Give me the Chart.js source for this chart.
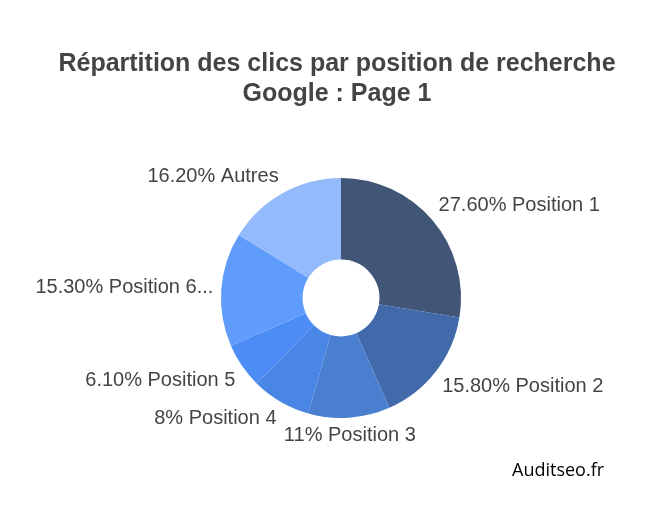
<!DOCTYPE html>
<html>
<head>
<meta charset="utf-8">
<script src="https://cdn.jsdelivr.net/npm/chart.js@4/dist/chart.umd.min.js"></script>
<style>
  html, body { margin: 0; padding: 0; background: #fff; }
  #wrap { position: relative; width: 654px; height: 506px; }
  #title {
    position: absolute; left: 20px; width: 634px; top: 47px;
    text-align: center; font: bold 25px "Liberation Sans", Arial, sans-serif;
    line-height: 30px; color: #444;
  }
  #source {
    position: absolute; left: 512px; top: 457px;
    font: 18px "Open Sans", sans-serif; color: #000;
  }
</style>
</head>
<body>
<div id="wrap">
  <canvas id="clicsChart" width="654" height="506"></canvas>
  <div id="title">Répartition des clics par position de recherche<br>Google : Page 1</div>
  <div id="source">Auditseo.fr</div>
</div>
<script>
// Data
const positions = ['Position 1', 'Position 2', 'Position 3', 'Position 4', 'Position 5', 'Position 6...', 'Autres'];
const clickShare = [27.6, 15.8, 11, 8, 6.1, 15.3, 16.2];
const sliceColors = ['#415577', '#426aab', '#4a7fcf', '#4a86e6', '#4b8df4', '#5f9cfb', '#93bbfb'];

function formatPct(v) {
    return (Number.isInteger(v) ? String(v) : v.toFixed(2)) + '%';
}

// outside labels, placed next to each slice like the original
const outsideLabels = {
    id: 'outsideLabels',
    afterDatasetsDraw(chart) {
        const ctx = chart.ctx;
        const meta = chart.getDatasetMeta(0);
        ctx.save();
        ctx.font = '20px "Liberation Sans", Arial, sans-serif';
        ctx.fillStyle = '#444';
        ctx.textBaseline = 'middle';
        meta.data.forEach((arc, i) => {
            const mid = (arc.startAngle + arc.endAngle) / 2;
            const r = arc.outerRadius + 8;
            const cos = Math.cos(mid), sin = Math.sin(mid);
            const x = arc.x + cos * r;
            let y = arc.y + sin * r;
            // push text box away vertically
            y += Math.max(-1, Math.min(1, sin * 2)) * 10;
            if (Math.abs(cos) < 0.3) ctx.textAlign = 'center';
            else ctx.textAlign = cos > 0 ? 'left' : 'right';
            const text = formatPct(clickShare[i]) + ' ' + positions[i];
            ctx.fillText(text, x, y);
        });
        ctx.restore();
    }
};

new Chart(document.getElementById('clicsChart'), {
    type: 'doughnut',
    data: {
        labels: positions,
        datasets: [{
            data: clickShare,
            backgroundColor: sliceColors,
            borderWidth: 0
        }]
    },
    options: {
        responsive: false,
        animation: false,
        cutout: '32%',
        layout: {
            padding: { top: 178, bottom: 88, left: 28, right: 0 }
        },
        plugins: {
            legend: { display: false },
            title: { display: false },
            tooltip: { enabled: false }
        }
    },
    plugins: [outsideLabels]
});
</script>
</body>
</html>
